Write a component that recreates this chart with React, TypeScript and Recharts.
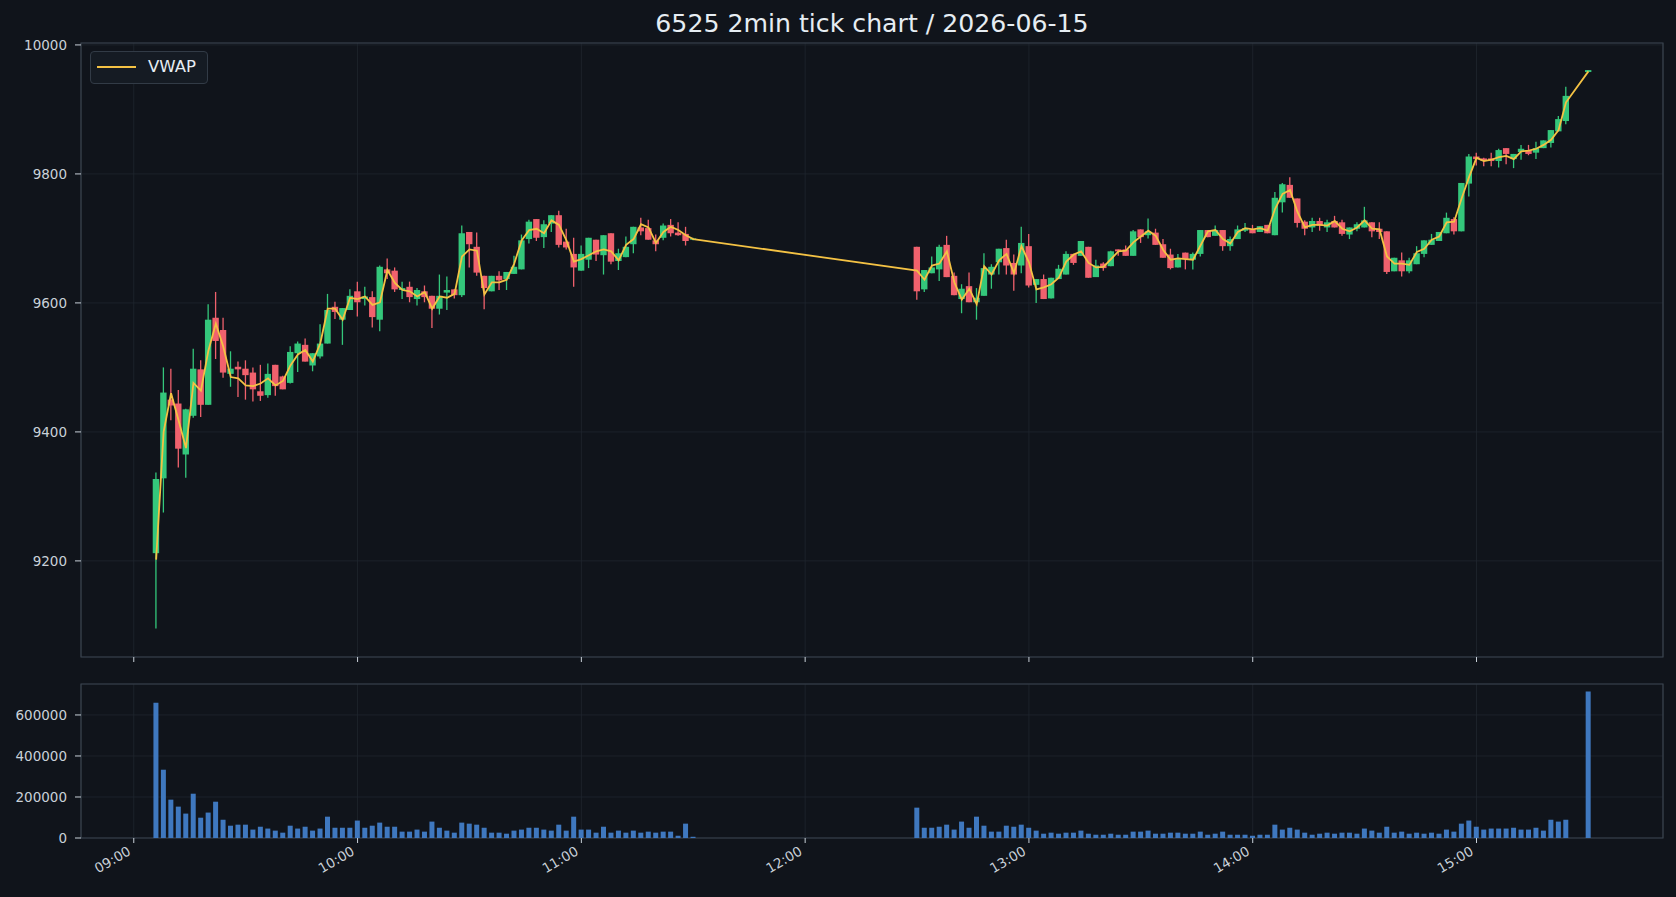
import React from 'react';
import { ComposedChart, Bar, Line, XAxis, YAxis, CartesianGrid, ReferenceArea } from 'recharts';

const TITLE = '6525 2min tick chart / 2026-06-15';

const amTimes = ['09:06','09:08','09:10','09:12','09:14','09:16','09:18','09:20','09:22','09:24','09:26','09:28','09:30','09:32','09:34','09:36','09:38','09:40','09:42','09:44','09:46','09:48','09:50','09:52','09:54','09:56','09:58','10:00','10:02','10:04','10:06','10:08','10:10','10:12','10:14','10:16','10:18','10:20','10:22','10:24','10:26','10:28','10:30','10:32','10:34','10:36','10:38','10:40','10:42','10:44','10:46','10:48','10:50','10:52','10:54','10:56','10:58','11:00','11:02','11:04','11:06','11:08','11:10','11:12','11:14','11:16','11:18','11:20','11:22','11:24','11:26','11:28','11:30'];
const amOpen = [9212,9328,9450,9444,9365,9425,9497,9442,9577,9558,9490,9501,9498,9492,9463,9457,9504,9486,9476,9522,9535,9503,9517,9537,9594,9574,9589,9618,9606,9609,9574,9652,9650,9620,9625,9606,9618,9611,9591,9616,9621,9612,9710,9687,9642,9618,9642,9637,9645,9652,9699,9730,9702,9723,9736,9695,9676,9650,9667,9698,9674,9708,9665,9671,9691,9717,9716,9697,9701,9721,9709,9707,9698];
const amHigh = [9337,9500,9498,9465,9436,9529,9511,9598,9617,9577,9525,9509,9511,9500,9504,9506,9504,9487,9533,9540,9545,9522,9567,9614,9602,9592,9621,9633,9625,9618,9658,9669,9655,9633,9633,9623,9627,9611,9644,9641,9621,9720,9710,9709,9642,9642,9649,9648,9673,9706,9729,9730,9728,9736,9743,9715,9701,9689,9701,9698,9705,9708,9684,9703,9718,9732,9729,9706,9723,9730,9725,9718,9701];
const amLow = [9095,9275,9418,9345,9329,9422,9423,9442,9513,9484,9470,9454,9450,9447,9448,9453,9456,9466,9475,9493,9509,9494,9514,9537,9575,9535,9589,9579,9596,9562,9556,9637,9617,9606,9601,9596,9601,9561,9582,9589,9607,9609,9655,9642,9590,9618,9620,9620,9645,9652,9692,9696,9685,9710,9686,9683,9625,9650,9654,9665,9644,9660,9651,9671,9677,9705,9698,9680,9697,9703,9704,9689,9697];
const amClose = [9327,9461,9441,9374,9435,9498,9442,9574,9541,9492,9498,9497,9488,9466,9456,9490,9471,9466,9524,9537,9509,9522,9537,9589,9586,9592,9611,9601,9610,9578,9656,9646,9621,9623,9609,9620,9609,9591,9611,9620,9612,9708,9691,9647,9623,9642,9635,9648,9656,9697,9726,9701,9722,9736,9690,9686,9655,9676,9701,9675,9705,9664,9677,9687,9718,9711,9698,9691,9720,9708,9705,9696,9700];
const amVwap = [9202,9400,9460,9418,9375,9476,9464,9526,9568,9532,9485,9483,9472,9471,9475,9483,9472,9479,9503,9520,9527,9509,9537,9591,9591,9574,9608,9606,9610,9597,9601,9651,9631,9620,9618,9610,9617,9591,9610,9608,9614,9672,9683,9681,9613,9632,9632,9636,9661,9697,9713,9715,9708,9728,9721,9697,9664,9668,9674,9680,9683,9680,9666,9690,9699,9722,9717,9693,9710,9718,9713,9705,9699];
const amVolume = [660000,333000,187000,153000,119000,216000,99000,124000,177000,89000,60000,65000,65000,41000,55000,46000,36000,26000,60000,46000,55000,36000,46000,104000,50000,50000,50000,85000,50000,60000,75000,55000,55000,31000,31000,41000,31000,80000,50000,36000,26000,75000,70000,65000,50000,26000,26000,21000,36000,41000,50000,50000,41000,36000,65000,36000,104000,41000,41000,26000,55000,26000,36000,26000,36000,26000,31000,26000,31000,31000,11000,70000,6000];

const pmTimes = ['12:30','12:32','12:34','12:36','12:38','12:40','12:42','12:44','12:46','12:48','12:50','12:52','12:54','12:56','12:58','13:00','13:02','13:04','13:06','13:08','13:10','13:12','13:14','13:16','13:18','13:20','13:22','13:24','13:26','13:28','13:30','13:32','13:34','13:36','13:38','13:40','13:42','13:44','13:46','13:48','13:50','13:52','13:54','13:56','13:58','14:00','14:02','14:04','14:06','14:08','14:10','14:12','14:14','14:16','14:18','14:20','14:22','14:24','14:26','14:28','14:30','14:32','14:34','14:36','14:38','14:40','14:42','14:44','14:46','14:48','14:50','14:52','14:54','14:56','14:58','15:00','15:02','15:04','15:06','15:08','15:10','15:12','15:14','15:16','15:18','15:20','15:22','15:24','15:30'];
const pmOpen = [9687,9621,9646,9652,9690,9642,9606,9626,9601,9611,9644,9663,9685,9662,9658,9688,9628,9637,9607,9637,9644,9676,9673,9687,9640,9661,9657,9683,9683,9673,9714,9705,9709,9691,9675,9655,9678,9667,9676,9713,9704,9713,9688,9699,9712,9714,9710,9721,9705,9756,9783,9762,9726,9717,9727,9717,9727,9725,9706,9715,9717,9725,9715,9711,9649,9666,9649,9660,9676,9690,9696,9708,9730,9711,9785,9827,9824,9824,9820,9840,9823,9834,9837,9833,9840,9848,9866,9882,9958];
const pmHigh = [9687,9651,9672,9690,9704,9647,9629,9647,9623,9677,9660,9684,9698,9675,9718,9707,9637,9644,9639,9659,9680,9676,9696,9687,9667,9663,9681,9683,9689,9713,9714,9731,9715,9699,9684,9676,9678,9678,9713,9713,9720,9713,9703,9720,9724,9721,9719,9721,9772,9786,9795,9762,9728,9732,9732,9729,9735,9729,9717,9725,9749,9725,9725,9711,9670,9678,9670,9688,9697,9707,9710,9740,9733,9786,9831,9833,9825,9833,9839,9840,9831,9845,9845,9850,9852,9868,9890,9935,9961];
const pmLow = [9605,9617,9646,9634,9640,9612,9584,9601,9574,9611,9622,9644,9644,9619,9646,9624,9600,9606,9607,9637,9644,9659,9673,9639,9640,9650,9657,9673,9673,9673,9693,9700,9690,9670,9652,9655,9652,9652,9672,9702,9704,9681,9681,9699,9710,9708,9710,9708,9705,9740,9763,9717,9705,9710,9712,9710,9717,9704,9699,9711,9717,9702,9699,9645,9649,9641,9646,9660,9671,9690,9696,9708,9706,9711,9765,9813,9812,9812,9810,9815,9809,9822,9829,9823,9840,9841,9866,9877,9958];
const pmClose = [9618,9651,9655,9687,9640,9612,9622,9601,9608,9654,9656,9684,9658,9644,9693,9627,9637,9606,9639,9653,9676,9662,9696,9639,9658,9654,9680,9680,9673,9711,9702,9711,9690,9670,9654,9668,9668,9676,9713,9702,9713,9688,9699,9714,9716,9708,9719,9708,9763,9784,9763,9724,9715,9727,9720,9725,9717,9707,9717,9722,9728,9711,9710,9648,9670,9649,9666,9677,9697,9698,9710,9732,9711,9786,9827,9823,9820,9820,9837,9831,9831,9839,9831,9840,9852,9868,9885,9921,9961];
const pmVwap = [9650,9636,9658,9661,9680,9632,9605,9622,9598,9657,9644,9666,9676,9646,9688,9663,9621,9624,9629,9639,9664,9675,9680,9662,9655,9656,9668,9680,9681,9694,9703,9712,9704,9682,9667,9669,9668,9667,9689,9711,9713,9699,9692,9710,9716,9714,9716,9712,9746,9769,9775,9741,9717,9721,9721,9720,9727,9715,9711,9717,9728,9715,9714,9672,9661,9661,9659,9679,9684,9698,9703,9725,9726,9762,9795,9825,9820,9822,9826,9828,9823,9835,9836,9839,9845,9853,9868,9911,9959];
const pmVolume = [148000,50000,50000,55000,65000,41000,80000,50000,104000,60000,31000,31000,60000,55000,65000,50000,36000,21000,26000,21000,26000,26000,36000,21000,16000,16000,21000,16000,16000,31000,31000,36000,21000,21000,26000,26000,21000,21000,31000,16000,21000,31000,16000,16000,16000,11000,16000,16000,65000,41000,50000,41000,26000,16000,21000,26000,21000,26000,26000,21000,46000,36000,26000,55000,26000,31000,21000,26000,21000,26000,21000,41000,31000,70000,85000,55000,41000,46000,46000,46000,50000,41000,41000,50000,36000,89000,80000,89000,714000];

const hourTicks = [0, 60, 120, 180, 240, 300, 360];
const hourLabels = ['09:00', '10:00', '11:00', '12:00', '13:00', '14:00', '15:00'];
const priceTicks = [9200, 9400, 9600, 9800, 10000];
const volumeTicks = [0, 200000, 400000, 600000];

const X_DOMAIN: [number, number] = [-14.15, 410];
const PRICE_DOMAIN: [number, number] = [9051, 10003];
const VOL_DOMAIN: [number, number] = [0, 751000];

const BG = '#10141b';
const GRID = '#1f262f';
const BORDER = '#3a434e';
const TEXT = '#c9d1d9';
const GREEN = '#34c77b';
const RED = '#f0616d';
const YELLOW = '#f4c244';
const BLUE = '#3f78bf';
const FONT = '"DejaVu Sans", sans-serif';

const toMin = (s: string) => {
  const [h, m] = s.split(':').map(Number);
  return h * 60 + m - 540;
};

const times = [...amTimes, ...pmTimes];
const opens = [...amOpen, ...pmOpen];
const highs = [...amHigh, ...pmHigh];
const lows = [...amLow, ...pmLow];
const closes = [...amClose, ...pmClose];
const vwaps = [...amVwap, ...pmVwap];
const volumes = [...amVolume, ...pmVolume];

const data = times.map((t, i) => ({
  t: toMin(t),
  o: opens[i],
  h: highs[i],
  l: lows[i],
  c: closes[i],
  range: [lows[i], highs[i]],
  vwap: vwaps[i],
  vol: volumes[i],
}));

const BODY_W = 6.4;

const Candle = (props: any) => {
  const { x, y, width, height, payload } = props;
  if (!payload || x == null) return null;
  const { o, h, l, c } = payload;
  const top = Math.min(y, y + height);
  const hh = Math.abs(height);
  const ratio = h > l ? hh / (h - l) : 0;
  const cx = x + width / 2;
  const bTop = top + (h - Math.max(o, c)) * ratio;
  const bBot = top + (h - Math.min(o, c)) * ratio;
  const col = c >= o ? GREEN : RED;
  return (
    <g>
      <line x1={cx} x2={cx} y1={top} y2={top + hh} stroke={col} strokeWidth={1.3} />
      <rect x={cx - BODY_W / 2} y={bTop} width={BODY_W} height={Math.max(1, bBot - bTop)} fill={col} />
    </g>
  );
};

const EmptyTick = () => <g />;

const TimeTick = (props: any) => {
  const { x, y, payload } = props;
  const idx = hourTicks.indexOf(payload.value);
  const label = idx >= 0 ? hourLabels[idx] : '';
  const px = x - 2;
  const py = y + 9;
  return (
    <text x={px} y={py} textAnchor="end" fill={TEXT} fontSize={13.5} fontFamily={FONT} transform={`rotate(-30 ${px} ${py})`}>
      {label}
    </text>
  );
};

export default function App() {
  return (
    <div style={{ position: 'absolute', left: 0, top: 0, width: 1676, height: 897, background: BG, overflow: 'hidden', fontFamily: FONT }}>
      <div style={{ position: 'absolute', left: 81, top: 9, width: 1582, textAlign: 'center', color: '#e6edf3', fontSize: 25.2, lineHeight: '30px' }}>
        {TITLE}
      </div>

      <div style={{ position: 'absolute', left: 0, top: 0 }}>
        <ComposedChart width={1676} height={680} data={data} margin={{ top: 43, right: 13, bottom: 0, left: 0 }}>
          <CartesianGrid stroke={GRID} strokeWidth={0.8} />
          <XAxis dataKey="t" type="number" domain={X_DOMAIN} ticks={hourTicks} allowDataOverflow height={23} tick={EmptyTick} tickLine={{ stroke: TEXT }} axisLine={false} tickSize={5} />
          <YAxis type="number" domain={PRICE_DOMAIN} ticks={priceTicks} allowDataOverflow width={81} axisLine={false} tickLine={{ stroke: TEXT }} tickSize={6} tickMargin={8} tick={{ fill: TEXT, fontSize: 13.5, fontFamily: FONT }} />
          <ReferenceArea x1={X_DOMAIN[0]} x2={X_DOMAIN[1]} y1={PRICE_DOMAIN[0]} y2={PRICE_DOMAIN[1]} fill="none" stroke={BORDER} strokeWidth={1.2} ifOverflow="visible" />
          <Bar dataKey="range" shape={Candle} barSize={7} isAnimationActive={false} />
          <Line type="linear" dataKey="vwap" stroke={YELLOW} strokeWidth={1.8} dot={false} isAnimationActive={false} />
        </ComposedChart>
      </div>

      <div style={{ position: 'absolute', left: 0, top: 660 }}>
        <ComposedChart width={1676} height={237} data={data} margin={{ top: 24, right: 13, bottom: 0, left: 0 }}>
          <CartesianGrid stroke={GRID} strokeWidth={0.8} />
          <XAxis dataKey="t" type="number" domain={X_DOMAIN} ticks={hourTicks} allowDataOverflow height={59} tick={TimeTick} tickLine={{ stroke: TEXT }} axisLine={false} tickSize={5} tickMargin={2} />
          <YAxis type="number" domain={VOL_DOMAIN} ticks={volumeTicks} allowDataOverflow width={81} axisLine={false} tickLine={{ stroke: TEXT }} tickSize={6} tickMargin={8} tick={{ fill: TEXT, fontSize: 13.5, fontFamily: FONT }} />
          <ReferenceArea x1={X_DOMAIN[0]} x2={X_DOMAIN[1]} y1={VOL_DOMAIN[0]} y2={VOL_DOMAIN[1]} fill="none" stroke={BORDER} strokeWidth={1.2} ifOverflow="visible" />
          <Bar dataKey="vol" fill={BLUE} barSize={5} isAnimationActive={false} />
        </ComposedChart>
      </div>

      <div style={{ position: 'absolute', left: 90, top: 51, width: 118, height: 33, boxSizing: 'border-box', background: '#151b23', border: '1px solid #323b46', borderRadius: 4 }}>
        <div style={{ position: 'absolute', left: 6, top: 14, width: 39, height: 2, background: YELLOW }} />
        <div style={{ position: 'absolute', left: 57, top: 4, color: '#e6edf3', fontSize: 16.5, lineHeight: '22px' }}>VWAP</div>
      </div>
    </div>
  );
}
